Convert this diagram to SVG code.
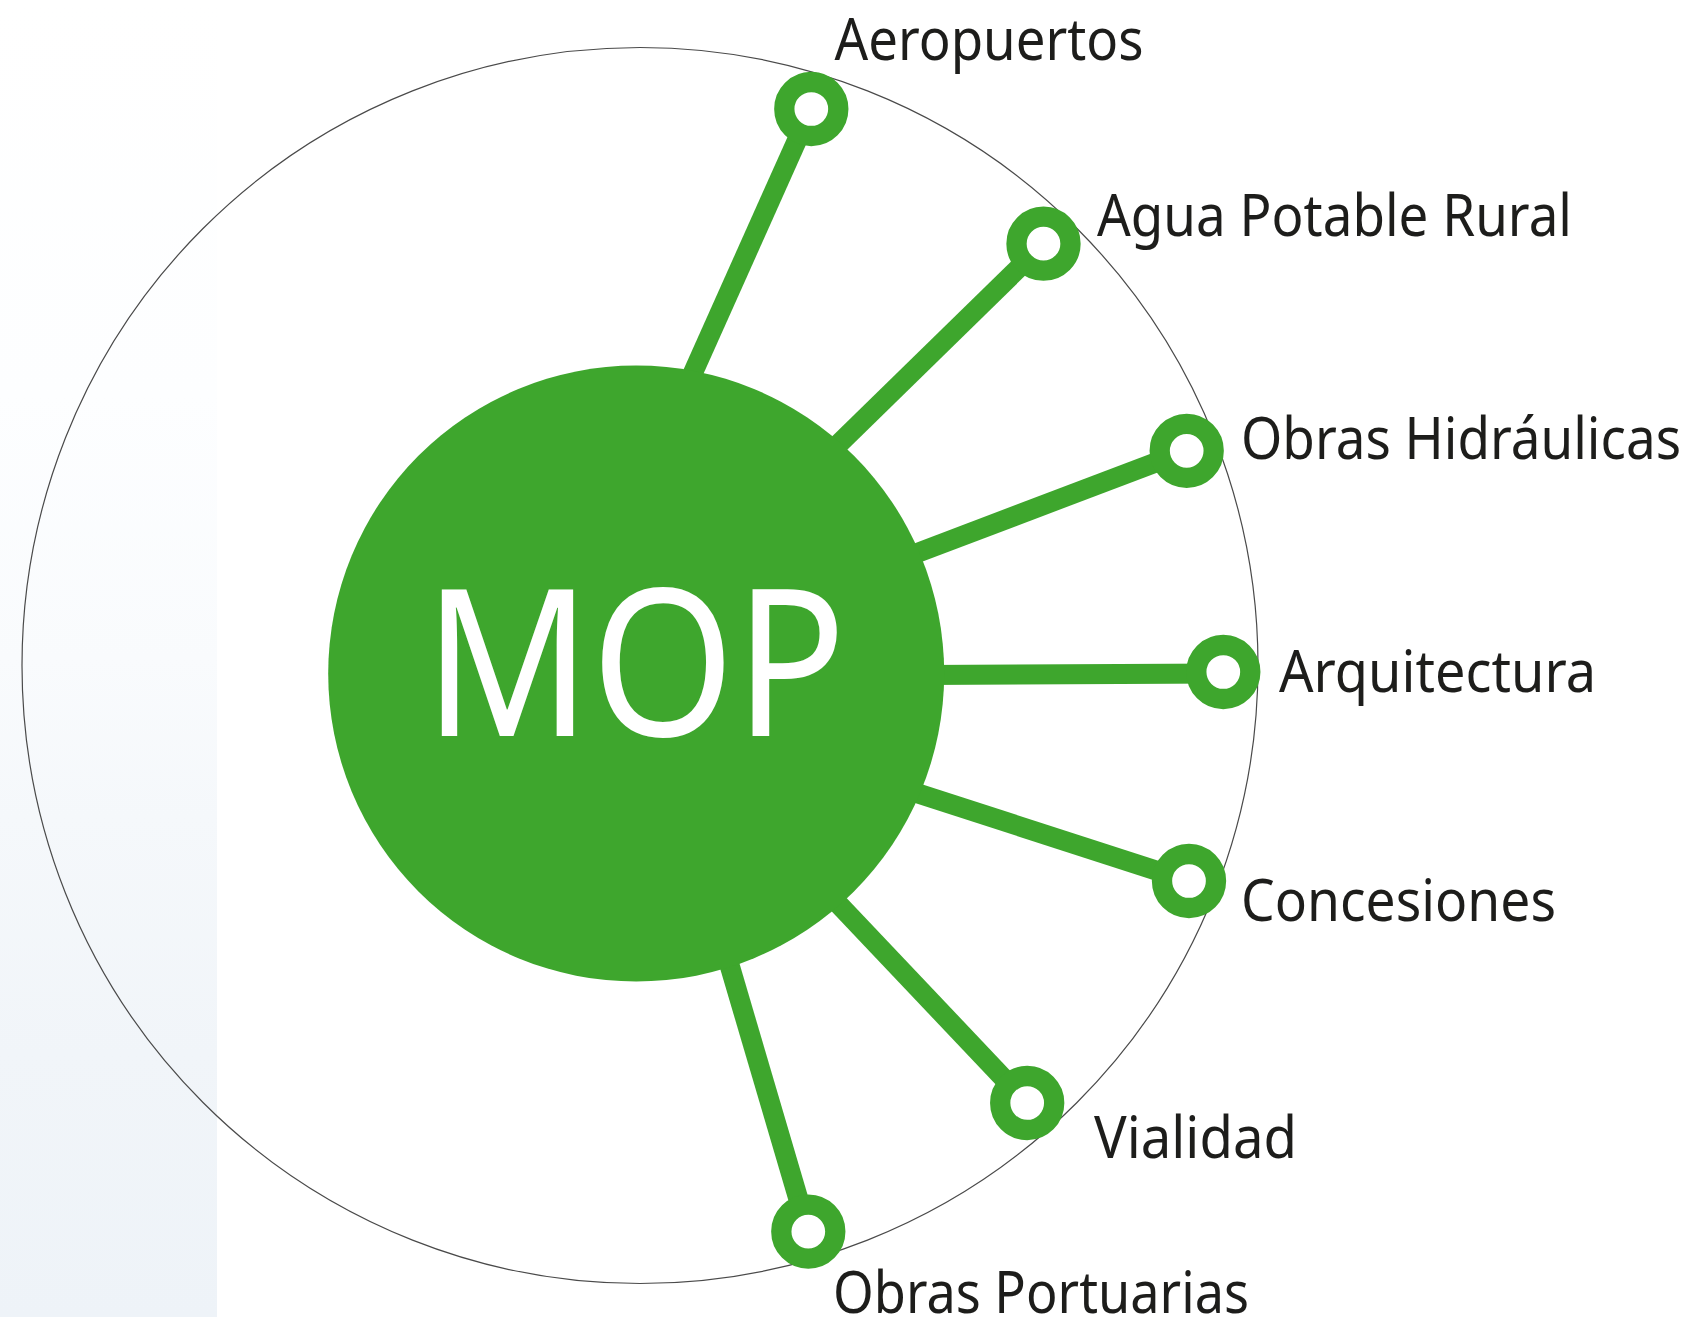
<svg xmlns="http://www.w3.org/2000/svg" width="1689" height="1317" viewBox="0 0 1689 1317">
<style>
.lbl{font-family:"Noto Sans","Open Sans",sans-serif;font-size:58px;fill:#1d1d1b}
.ring{fill:#fff;stroke:#3ea62d;stroke-width:20.3}
.conn{stroke:#3ea62d;stroke-width:20;fill:none}
</style>
<defs><linearGradient id="bg" x1="0" y1="0" x2="0" y2="1"><stop offset="0" stop-color="#fff"/><stop offset="0.3" stop-color="#fdfeff"/><stop offset="0.5" stop-color="#f9fbfd"/><stop offset="0.62" stop-color="#f5f8fb"/><stop offset="0.8" stop-color="#f1f5f9"/><stop offset="1" stop-color="#eef3f8"/></linearGradient></defs>
<rect width="1689" height="1317" fill="#fff"/>
<rect width="217" height="1317" fill="url(#bg)"/>
<circle id="orbit" cx="640" cy="665.5" r="618" fill="none" stroke="#4a4a4a" stroke-width="1.2"/>
<g id="connectors">
<line class="conn" x1="685.3" y1="390" x2="811" y2="109"/>
<line class="conn" x1="825.4" y1="457" x2="1043.5" y2="243.7"/>
<line class="conn" x1="901.3" y1="559" x2="1186.5" y2="450.8"/>
<line class="conn" x1="925" y1="675" x2="1223" y2="673.5"/>
<line class="conn" x1="901" y1="788" x2="1188.6" y2="881"/>
<line class="conn" x1="826" y1="890.8" x2="1027" y2="1103"/>
<line class="conn" x1="724.1" y1="946.6" x2="808" y2="1231.6"/>
</g>
<g id="center"><circle cx="636.2" cy="673.6" r="308" fill="#3ea62d"/><text x="424" y="735.5" textLength="422" lengthAdjust="spacingAndGlyphs" style="font-family:'Noto Sans',sans-serif;font-size:204px;fill:#fff">MOP</text></g>
<g id="n1"><circle class="ring" cx="811.3" cy="109" r="27"/><text class="lbl" x="834.5" y="60" textLength="309" lengthAdjust="spacingAndGlyphs">Aeropuertos</text></g>
<g id="n2"><circle class="ring" cx="1043.5" cy="243.7" r="27"/><text class="lbl" x="1097" y="236" textLength="475" lengthAdjust="spacingAndGlyphs">Agua Potable Rural</text></g>
<g id="n3"><circle class="ring" cx="1186.7" cy="450.8" r="27"/><text class="lbl" x="1241" y="459" textLength="440" lengthAdjust="spacingAndGlyphs">Obras Hidráulicas</text></g>
<g id="n4"><circle class="ring" cx="1223.3" cy="672" r="27"/><text class="lbl" x="1279" y="692" textLength="317" lengthAdjust="spacingAndGlyphs">Arquitectura</text></g>
<g id="n5"><circle class="ring" cx="1189" cy="881" r="27"/><text class="lbl" x="1241" y="921" textLength="315" lengthAdjust="spacingAndGlyphs">Concesiones</text></g>
<g id="n6"><circle class="ring" cx="1027.2" cy="1103" r="27"/><text class="lbl" x="1094" y="1157.5" textLength="203" lengthAdjust="spacingAndGlyphs">Vialidad</text></g>
<g id="n7"><circle class="ring" cx="808.3" cy="1231.6" r="27"/><text class="lbl" x="833" y="1313" textLength="416" lengthAdjust="spacingAndGlyphs">Obras Portuarias</text></g>
</svg>
